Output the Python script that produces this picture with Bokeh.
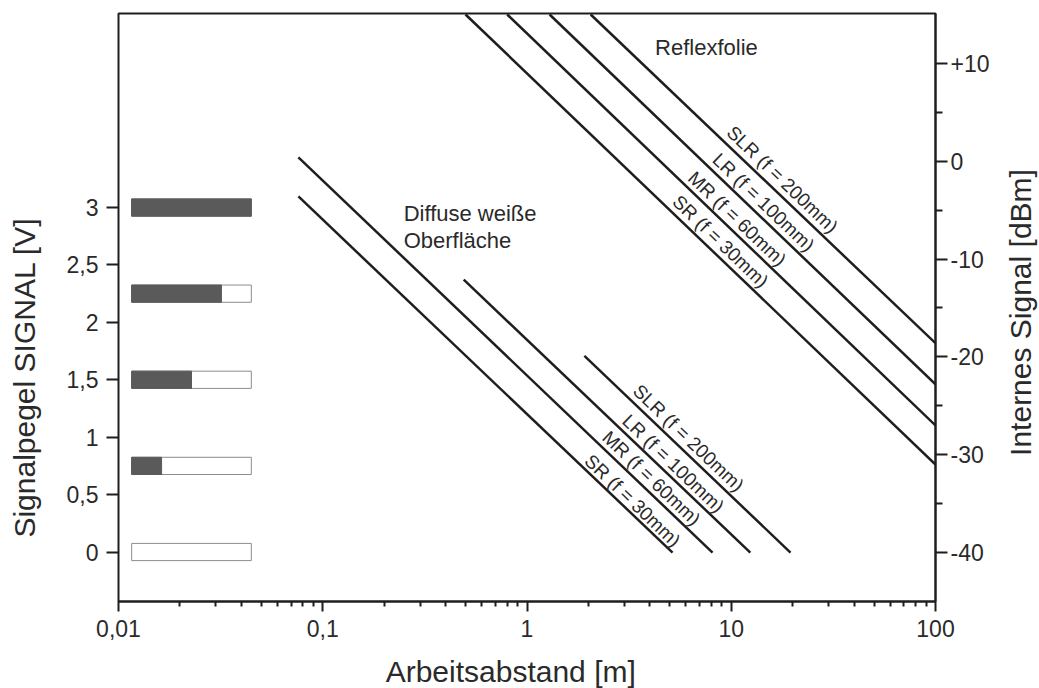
import math
from bokeh.plotting import figure
from bokeh.layouts import row, column
from bokeh.models import Range1d, LinearAxis, FixedTicker, CustomJSTickFormatter
from bokeh.embed import file_html
from bokeh.resources import INLINE
from bokeh.core.properties import value

# ---------------- data ----------------
x_ticks = [0.01, 0.1, 1, 10, 100]
v_ticks = [0, 0.5, 1, 1.5, 2, 2.5, 3]
dbm_ticks = [-40, -30, -20, -10, 0, 10]
dbm_minor = [-35, -25, -15, -5, 5]

sensors = ["SR", "MR", "LR", "SLR"]
focal_mm = [30, 60, 100, 200]

# Reflexfolie lines (start / end) in [m] and [dBm]
reflex_x0 = [0.50, 0.80, 1.29, 2.05]
reflex_db0 = [15.0, 15.0, 15.0, 15.0]
reflex_x1 = [100, 100, 100, 100]
reflex_db1 = [-31.0, -27.0, -22.8, -18.6]

# Diffuse weisse Oberflaeche lines
diffuse_x0 = [0.076, 0.076, 0.49, 1.91]
diffuse_db0 = [-3.6, 0.4, -12.1, -19.9]
diffuse_x1 = [5.16, 8.1, 12.4, 19.5]
diffuse_db1 = [-40.0, -40.0, -40.0, -40.0]

# signal level bars [V]
signal_levels = [0, 0.75, 1.5, 2.25, 3.0]
signal_full = 3.0

x_title = "Arbeitsabstand [m]"
y_title = "Signalpegel SIGNAL [V]"
y2_title = "Internes Signal [dBm]"

# ---------------- layout constants ----------------
FONT = "Liberation Sans"
INK = "#1e1e1e"
TXT = "#2a2a2a"
ANG = -math.atan((20 * 9.78) / 204.25)
W, H = 1039, 688
LW, RW, BH = 45, 40, 40          # side strips holding the axis titles

bar_left, bar_right, bar_h = 0.0116, 0.0447, 0.15

reflex_lab_x = [8.86, 10.7, 14.4, 17.8]
reflex_lab_y = [-8.2, -5.88, -4.2, -1.86]
diffuse_lab_x = [3.29, 4.07, 5.21, 6.18]
diffuse_lab_y = [-34.7, -32.4, -30.9, -28.3]

PW = W - LW - RW
PH = H - BH
p = figure(width=PW, height=PH, x_axis_type="log",
           x_range=Range1d(0.01, 100), y_range=Range1d(-0.431, 4.69),
           output_backend="svg", toolbar_location=None,
           min_border_left=118 - LW, min_border_right=PW - (935 - LW),
           min_border_top=13, min_border_bottom=PH - 601)
p.extra_y_ranges = {"dbm": Range1d(-45.0, 15.1)}
p.xgrid.visible = False
p.ygrid.visible = False
p.outline_line_color = INK
p.outline_line_width = 2
p.outline_line_alpha = 1.0
p.background_fill_color = "white"
p.border_fill_color = "white"

def style_axis(ax, tick_out, minor_out):
    ax.axis_line_color = INK
    ax.axis_line_width = 2
    ax.major_tick_line_color = INK
    ax.major_tick_line_width = 2
    ax.minor_tick_line_color = INK
    ax.minor_tick_line_width = 2
    ax.major_tick_in = 0
    ax.major_tick_out = tick_out
    ax.minor_tick_in = 0
    ax.minor_tick_out = minor_out
    ax.major_label_text_font = FONT
    ax.major_label_text_font_size = "23px"
    ax.major_label_text_color = TXT

# bottom axis
xa = p.xaxis[0]
x_minor = [m * 10.0 ** e for e in range(-2, 2) for m in range(2, 10)]
xa.ticker = FixedTicker(ticks=x_ticks, minor_ticks=x_minor)
xa.formatter = CustomJSTickFormatter(code="return tick.toString().replace('.', ',');")
style_axis(xa, 10, 5)
xa.major_label_standoff = 8

# left axis
ya = p.yaxis[0]
ya.ticker = FixedTicker(ticks=v_ticks, minor_ticks=[])
ya.formatter = CustomJSTickFormatter(code="return tick.toString().replace('.', ',');")
ya.bounds = (0, 3)
style_axis(ya, 12, 0)
ya.axis_line_color = None
ya.major_label_standoff = 8

# right axis
ra = LinearAxis(y_range_name="dbm",
                ticker=FixedTicker(ticks=dbm_ticks, minor_ticks=dbm_minor),
                formatter=CustomJSTickFormatter(code="return tick > 0 ? '+' + tick : tick.toString();"))
style_axis(ra, 12, 7)
ra.major_label_standoff = 3
p.add_layout(ra, "right")

# signal level bars
p.hbar(y=signal_levels, left=[bar_left] * len(signal_levels),
       right=[bar_right] * len(signal_levels), height=bar_h,
       fill_color="white", line_color="#8c8c8c", line_width=1)
lv_on = [lv for lv in signal_levels if lv > 0]
l0, l1 = math.log10(bar_left), math.log10(bar_right)
dark_right = [10 ** (l0 + (lv / signal_full) * (l1 - l0)) for lv in lv_on]
p.hbar(y=lv_on, left=[bar_left] * len(lv_on), right=dark_right, height=bar_h,
       fill_color="#5a5a5a", line_color="#5a5a5a", line_width=1)

# lines
p.segment(x0=reflex_x0, y0=reflex_db0, x1=reflex_x1, y1=reflex_db1,
          y_range_name="dbm", line_color=INK, line_width=2.5)
p.segment(x0=diffuse_x0, y0=diffuse_db0, x1=diffuse_x1, y1=diffuse_db1,
          y_range_name="dbm", line_color=INK, line_width=2.5)

labels = [f"{s} (f = {f}mm)" for s, f in zip(sensors, focal_mm)]
for xs, ys in ((reflex_lab_x, reflex_lab_y), (diffuse_lab_x, diffuse_lab_y)):
    p.text(x=xs, y=ys, text=labels, angle=ANG, y_range_name="dbm",
           text_font=value(FONT), text_font_size="19px", text_color=TXT,
           text_align="center", text_baseline="middle")

p.text(x=[7.56], y=[11.64], text=["Reflexfolie"], y_range_name="dbm",
       text_font=value(FONT), text_font_size="22px", text_color=TXT,
       text_align="center", text_baseline="middle")
p.text(x=[0.249], y=[-4.11], text=["Diffuse weiße\nOberfläche"], y_range_name="dbm",
       text_font=value(FONT), text_font_size="22px", text_color=TXT,
       text_align="left", text_baseline="top", text_line_height=1.08)

# ---------------- axis title strips (pixel coordinates) ----------------
def strip(w, h):
    f = figure(width=w, height=h, x_range=Range1d(0, w), y_range=Range1d(0, h),
               output_backend="svg", toolbar_location=None,
               x_axis_location=None, y_axis_location=None, min_border=0)
    f.xgrid.visible = False
    f.ygrid.visible = False
    f.outline_line_color = None
    f.background_fill_color = "white"
    f.border_fill_color = "white"
    return f

title_kw = dict(text_font=value(FONT), text_font_size="30px", text_color=TXT,
                text_align="center", text_baseline="middle")

pl = strip(LW, H)
pl.text(x=[24], y=[H - 377], text=[y_title], angle=math.pi / 2, **title_kw)

pb = strip(PW, BH)
pb.text(x=[503 - LW], y=[H - 671], text=[x_title], **title_kw)

pr = strip(RW, H)
pr.text(x=[21], y=[H - 312], text=[y2_title], angle=math.pi / 2, **title_kw)

layout = row(pl, column(p, pb, spacing=0), pr, spacing=0)
open("out.html", "w").write(file_html(layout, INLINE))
